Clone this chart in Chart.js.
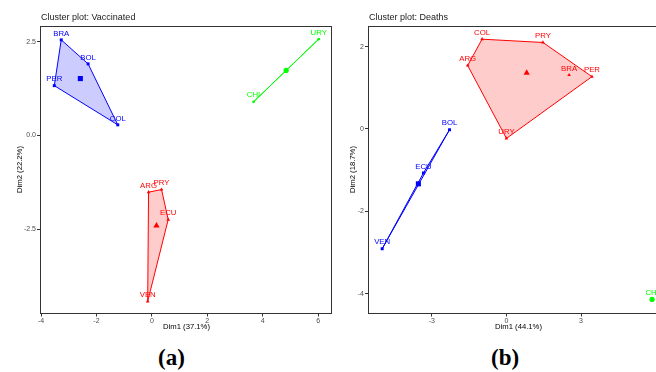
<!DOCTYPE html>
<html>
<head>
<meta charset="utf-8">
<script src="https://cdn.jsdelivr.net/npm/chart.js@4.4.0/dist/chart.umd.min.js"></script>
<style>
html, body { margin: 0; padding: 0; width: 656px; height: 372px; overflow: hidden; background: #fff; }
.panel { position: absolute; top: 0; height: 336px; }
#wrapA { left: 0; width: 336px; }
#wrapB { left: 328px; width: 344px; }
.cap { position: absolute; top: 345px; line-height: 24px; font: bold 23px "Liberation Serif", "DejaVu Serif", serif; color: #000; }
</style>
</head>
<body>
<div class="panel" id="wrapA"><canvas id="vacChart"></canvas></div>
<div class="panel" id="wrapB"><canvas id="deathChart"></canvas></div>
<div class="cap" style="left:158px">(a)</div>
<div class="cap" style="left:491px">(b)</div>
<script>
// cluster styling: 0 = red, 1 = green, 2 = blue
const clusterColors = ['#FF0000', '#00FF00', '#0000FF'];
const clusterFills = ['rgba(255,0,0,0.2)', 'rgba(0,255,0,0.2)', 'rgba(0,0,255,0.2)'];
const clusterShapes = ['triangle', 'circle', 'rect'];

// Cluster plot: Vaccinated
const vacCountries = ['BRA', 'BOL', 'PER', 'COL', 'CHI', 'URY', 'ARG', 'PRY', 'ECU', 'VEN'];
const vacDim1 = [-3.27, -2.30, -3.52, -1.23, 3.67, 6.02, -0.12, 0.35, 0.59, -0.15];
const vacDim2 = [2.55, 1.91, 1.33, 0.285, 0.90, 2.57, -1.51, -1.44, -2.24, -4.42];
const vacCluster = [2, 2, 2, 2, 1, 1, 0, 0, 0, 0];
const vacXTicks = [-4, -2, 0, 2, 4, 6];
const vacYTicks = [-2.5, 0, 2.5];

// Cluster plot: Deaths
const deathCountries = ['COL', 'PRY', 'ARG', 'BRA', 'PER', 'URY', 'BOL', 'ECU', 'VEN', 'CHI'];
const deathDim1 = [-0.98, 1.47, -1.56, 2.52, 3.44, 0.0, -2.29, -3.34, -5.0, 5.86];
const deathDim2 = [2.18, 2.10, 1.54, 1.31, 1.27, -0.23, -0.02, -1.07, -2.91, -4.14];
const deathCluster = [0, 0, 0, 0, 0, 0, 2, 2, 2, 1];
const deathXTicks = [-3, 0, 3];
const deathYTicks = [-4, -2, 0, 2];

function convexHull(pts) {
    const p = pts.slice().sort((a, b) => a.x - b.x || a.y - b.y);
    if (p.length < 3) return p;
    const cross = (o, a, b) => (a.x - o.x) * (b.y - o.y) - (a.y - o.y) * (b.x - o.x);
    const lower = [], upper = [];
    for (const pt of p) {
        while (lower.length >= 2 && cross(lower[lower.length - 2], lower[lower.length - 1], pt) <= 0) lower.pop();
        lower.push(pt);
    }
    for (let i = p.length - 1; i >= 0; i--) {
        const pt = p[i];
        while (upper.length >= 2 && cross(upper[upper.length - 2], upper[upper.length - 1], pt) <= 0) upper.pop();
        upper.push(pt);
    }
    upper.pop(); lower.pop();
    return lower.concat(upper);
}

function buildDatasets(names, xs, ys, clusters) {
    const sets = [];
    [0, 1, 2].forEach(c => {
        const idx = names.map((n, i) => i).filter(i => clusters[i] === c);
        if (!idx.length) return;
        const pts = idx.map(i => ({ x: xs[i], y: ys[i] }));
        if (pts.length > 1) {
            const hull = convexHull(pts);
            hull.push(hull[0]);
            sets.push({
                data: hull,
                borderColor: clusterColors[c],
                backgroundColor: clusterFills[c],
                borderWidth: 1,
                pointRadius: 0,
                tension: 0,
                fill: 'shape'
            });
        }
        sets.push({
            data: pts,
            showLine: false,
            pointStyle: clusterShapes[c],
            pointRadius: c === 1 ? 1.4 : 2.1,
            borderWidth: 0,
            backgroundColor: clusterColors[c],
            borderColor: clusterColors[c],
            labels: idx.map(i => names[i]),
            labelColor: clusterColors[c]
        });
        const cx = pts.reduce((s, q) => s + q.x, 0) / pts.length;
        const cy = pts.reduce((s, q) => s + q.y, 0) / pts.length;
        sets.push({
            data: [{ x: cx, y: cy }],
            showLine: false,
            pointStyle: clusterShapes[c],
            pointRadius: c === 1 ? 2.6 : 3.6,
            borderWidth: 0,
            backgroundColor: clusterColors[c],
            borderColor: clusterColors[c]
        });
    });
    return sets;
}

const pointLabels = {
    id: 'pointLabels',
    afterDatasetsDraw(chart) {
        const ctx = chart.ctx;
        ctx.save();
        ctx.font = '7.8px "Liberation Sans", Arial, sans-serif';
        ctx.textAlign = 'center';
        ctx.textBaseline = 'middle';
        chart.data.datasets.forEach((ds, i) => {
            if (!ds.labels) return;
            ctx.fillStyle = ds.labelColor;
            chart.getDatasetMeta(i).data.forEach((el, j) => {
                ctx.fillText(ds.labels[j], el.x, el.y - 6.5);
            });
        });
        ctx.restore();
    }
};

const panelFrame = {
    id: 'panelFrame',
    afterDraw(chart, args, opts) {
        const { ctx, chartArea: a } = chart;
        ctx.save();
        ctx.strokeStyle = '#333';
        ctx.lineWidth = 1;
        ctx.strokeRect(Math.round(a.left) - 0.5, Math.round(a.top) + 0.5,
            Math.round(a.right - a.left), Math.round(a.bottom - a.top));
        ctx.fillStyle = '#1a1a1a';
        ctx.font = '9px "Liberation Sans", Arial, sans-serif';
        ctx.textAlign = 'left';
        ctx.textBaseline = 'alphabetic';
        ctx.fillText(opts.text, a.left, a.top - 6);
        ctx.restore();
    }
};

function fmt(v, digits) {
    return (v < 0 ? '-' : '') + Math.abs(v).toFixed(digits);
}

function makeChart(id, title, names, xs, ys, clusters, xRange, yRange, xTicks, yTicks, yDigits, xTitle, yTitle, yTitlePad) {
    const tickFont = { family: '"Liberation Sans", Arial, sans-serif', size: 7 };
    const titleFont = { family: '"Liberation Sans", Arial, sans-serif', size: 7.7 };
    return new Chart(document.getElementById(id), {
        type: 'line',
        data: { datasets: buildDatasets(names, xs, ys, clusters) },
        options: {
            responsive: true,
            maintainAspectRatio: false,
            animation: false,
            layout: { padding: { left: 0, right: 2, top: 26, bottom: 0 } },
            plugins: {
                legend: { display: false },
                tooltip: { enabled: false },
                panelFrame: { text: title }
            },
            scales: {
                x: {
                    type: 'linear',
                    min: xRange[0],
                    max: xRange[1],
                    afterBuildTicks: s => { s.ticks = xTicks.map(v => ({ value: v })); },
                    afterFit: s => { s.height = 23; },
                    grid: { drawOnChartArea: false, drawTicks: true, tickLength: 3.5, color: '#333' },
                    border: { display: false },
                    ticks: { autoSkip: false, maxRotation: 0, padding: 0, color: '#4d4d4d', font: tickFont, callback: v => fmt(v, 0) },
                    title: { display: true, text: xTitle, color: '#000', font: titleFont, padding: { top: 0, bottom: 4.5 } }
                },
                y: {
                    type: 'linear',
                    min: yRange[0],
                    max: yRange[1],
                    afterBuildTicks: s => { s.ticks = yTicks.map(v => ({ value: v })); },
                    afterFit: s => { s.width = 41; },
                    grid: { drawOnChartArea: false, drawTicks: true, tickLength: 4, color: '#333' },
                    border: { display: false },
                    ticks: { autoSkip: false, padding: 1, color: '#4d4d4d', font: tickFont, callback: v => fmt(v, yDigits) },
                    title: { display: true, text: yTitle, color: '#000', font: titleFont, padding: { top: yTitlePad, bottom: 0 } }
                }
            }
        },
        plugins: [pointLabels, panelFrame]
    });
}

makeChart('vacChart', 'Cluster plot: Vaccinated', vacCountries, vacDim1, vacDim2, vacCluster,
    [-4, 6.5], [-4.73, 2.92], vacXTicks, vacYTicks, 1, 'Dim1 (37.1%)', 'Dim2 (22.2%)', 15);
makeChart('deathChart', 'Cluster plot: Deaths', deathCountries, deathDim1, deathDim2, deathCluster,
    [-5.53, 6.5], [-4.47, 2.5], deathXTicks, deathYTicks, 0, 'Dim1 (44.1%)', 'Dim2 (18.7%)', 20);
</script>
</body>
</html>
